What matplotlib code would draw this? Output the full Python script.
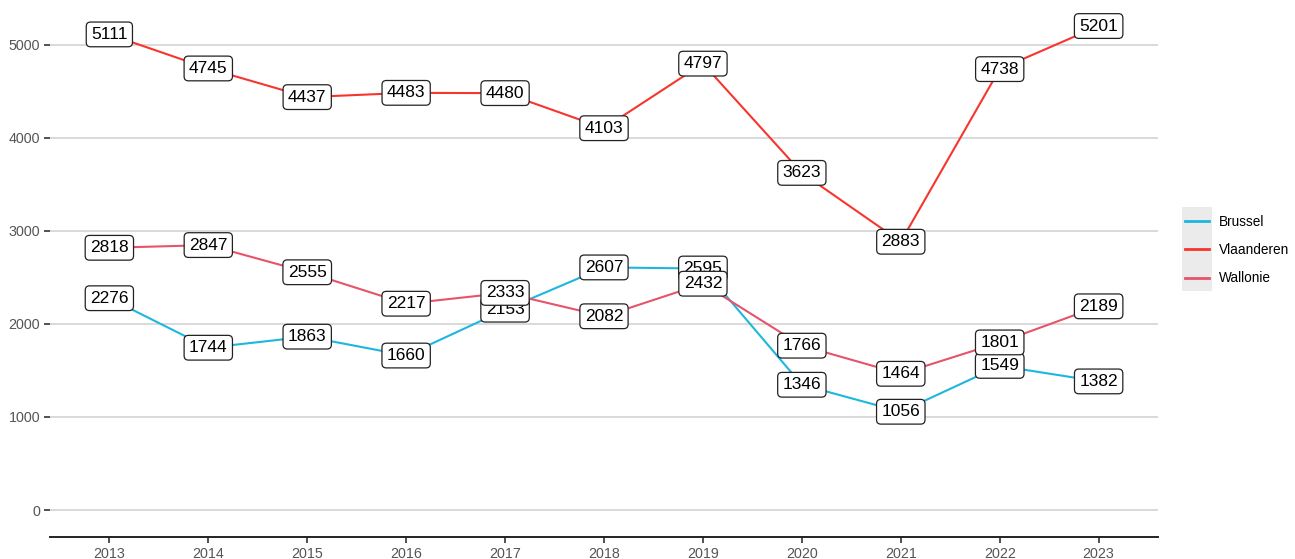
import matplotlib
matplotlib.use("Agg")
import matplotlib.pyplot as plt
from matplotlib.patches import Rectangle

years = [2013, 2014, 2015, 2016, 2017, 2018, 2019, 2020, 2021, 2022, 2023]
brussel = [2276, 1744, 1863, 1660, 2153, 2607, 2595, 1346, 1056, 1549, 1382]
vlaanderen = [5111, 4745, 4437, 4483, 4480, 4103, 4797, 3623, 2883, 4738, 5201]
wallonie = [2818, 2847, 2555, 2217, 2333, 2082, 2432, 1766, 1464, 1801, 2189]

series = [("Brussel", brussel, "#1DB7DD"),
          ("Vlaanderen", vlaanderen, "#F8352D"),
          ("Wallonie", wallonie, "#E6546C")]

plt.rcParams['font.family'] = ['Liberation Sans', 'DejaVu Sans']

W, H = 1295, 559
fig = plt.figure(figsize=(W / 100, H / 100), dpi=100)
ax = fig.add_axes([50 / W, 1 - 537 / H, (1158 - 50) / W, (537 - 1) / H])

x = list(range(len(years)))
for name, vals, col in series:
    ax.plot(x, vals, color=col, lw=1.5, label=name, zorder=2)

z = 3
for name, vals, col in series:
    for xi, v in zip(x, vals):
        ax.text(xi, v, str(v), ha="center", va="center", fontsize=12.5, color="black", zorder=z,
                bbox=dict(boxstyle="round,pad=0.28,rounding_size=0.25", fc="white", ec="#222222", lw=0.9))
        z += 0.01

ax.set_xlim(-0.6, len(years) - 1 + 0.6)
ax.set_ylim(-290, 5470)
ax.set_xticks(x)
ax.set_xticklabels([str(y) for y in years])
ax.set_yticks([0, 1000, 2000, 3000, 4000, 5000])
ax.yaxis.grid(True, color="#D0D0D0", lw=1.1)
ax.set_axisbelow(True)
for s in ["top", "right", "left"]:
    ax.spines[s].set_visible(False)
ax.spines["bottom"].set_color("#222222")
ax.spines["bottom"].set_linewidth(1.4)
ax.tick_params(axis="both", colors="#333333", labelcolor="#555555", labelsize=10.3, length=4, width=1.2)
ax.tick_params(axis="y", pad=3)
ax.tick_params(axis="x", pad=3)

fig.patches.append(Rectangle((1182 / W, 1 - 291 / H), 30 / W, 84 / H, transform=fig.transFigure,
                             fc="#EBEBEB", ec="none", zorder=0))
leg = fig.legend(loc="center left", bbox_to_anchor=(1185 / W, 1 - 250 / H), frameon=False,
                 fontsize=9.8, handlelength=1.75, labelspacing=1.05, handletextpad=0.75,
                 borderaxespad=0, borderpad=0)
for lh in leg.get_lines():
    lh.set_linewidth(2)

fig.savefig("out.png", dpi=100)
